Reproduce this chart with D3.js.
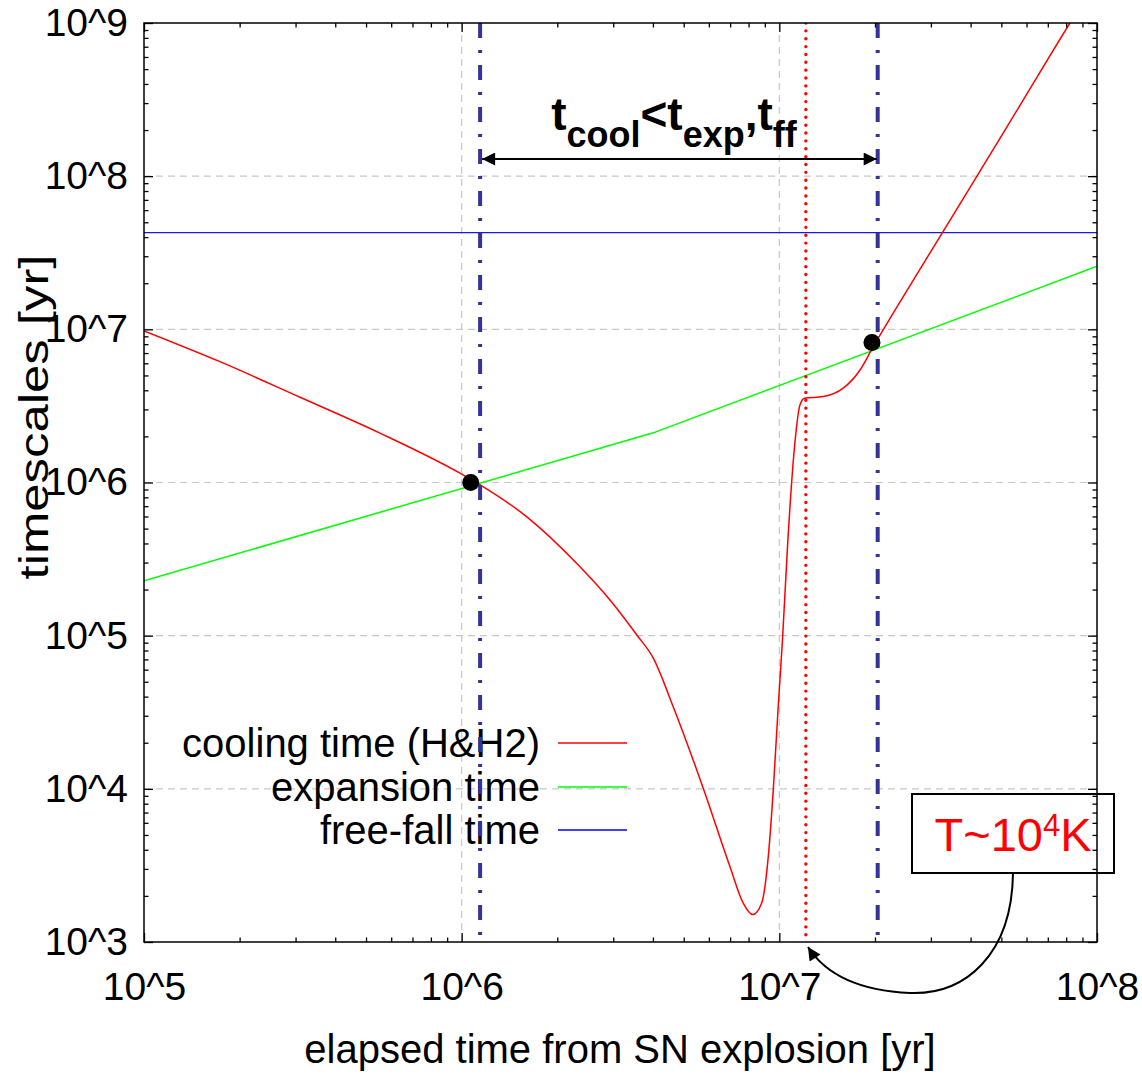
<!DOCTYPE html>
<html><head><meta charset="utf-8">
<script src="https://cdn.jsdelivr.net/npm/d3@7"></script>
<style>body{margin:0;background:#fff}svg{display:block}text{font-family:"Liberation Sans",Arial,sans-serif}</style>
</head><body><svg id="c" width="1142" height="1074"></svg>
<script>
// ---- data ----
const xTicks = [1e5, 1e6, 1e7, 1e8];
const xTickLabels = ["10^5", "10^6", "10^7", "10^8"];
const yTicks = [1e3, 1e4, 1e5, 1e6, 1e7, 1e8, 1e9];
const yTickLabels = ["10^3", "10^4", "10^5", "10^6", "10^7", "10^8", "10^9"];

const coolX = [1e5, 1.735e5, 3.10e5, 5.53e5, 9.88e5, 1.143e6, 1.60e6, 2.30e6, 2.93e6, 3.56e6, 4.01e6, 4.63e6, 5.76e6, 6.99e6, 7.69e6, 8.24e6, 8.80e6, 9.23e6, 9.57e6, 9.92e6, 1.023e7, 1.064e7, 1.114e7, 1.161e7, 1.200e7, 1.375e7, 1.589e7, 1.795e7, 1.975e7, 2.28e7, 3.28e7, 4.18e7, 5.71e7, 8.22e7, 9.0e7];
const coolY = [9.77e6, 6.15e6, 3.60e6, 2.10e6, 1.15e6, 9.65e5, 5.99e5, 2.97e5, 1.71e5, 1.01e5, 7.13e4, 3.45e4, 1.01e4, 3.11e3, 1.80e3, 1.51e3, 1.80e3, 3.61e3, 9.85e3, 3.45e4, 9.39e4, 4.22e5, 1.63e6, 3.2e6, 3.55e6, 3.64e6, 4.13e6, 5.43e6, 7.71e6, 1.27e7, 4.36e7, 9.93e7, 2.88e8, 1e9, 1.35e9];

const expX = [1e5, 4.01e6, 1e8];
const expY = [2.28e5, 2.11e6, 2.58e7];

const ffX = [1e5, 1e8];
const ffY = [4.28e7, 4.28e7];

const crossX = [1.068e6, 1.957e7];
const crossY = [1.0e6, 8.2e6];

const vDashDotX = [1.143e6, 2.04e7];
const vDotX = [1.212e7];

const seriesNames = ["cooling time (H&H2)", "expansion time", "free-fall time"];
const seriesColors = ["#ff0000", "#00ff00", "#0000ff"];

// ---- layout ----
const L = 144, R = 1097, T = 23, B = 942;
const svg = d3.select("#c");
const x = d3.scaleLog().domain([1e5, 1e8]).range([L, R]);
const y = d3.scaleLog().domain([1e3, 1e9]).range([B, T]);

function minorTicks(lo, hi) {
  const out = [];
  for (let e = lo; e < hi; e++) for (let k = 2; k <= 9; k++) out.push(k * Math.pow(10, e));
  return out;
}
const xMinor = minorTicks(5, 8), yMinor = minorTicks(3, 9);

const defs = svg.append("defs");
defs.append("clipPath").attr("id", "clip")
  .append("rect").attr("x", L).attr("y", T).attr("width", R - L).attr("height", B - T);

// grid
const grid = svg.append("g").attr("stroke", "#c8c8c8").attr("stroke-width", 1.2).attr("stroke-dasharray", "7,5");
[1e4, 1e5, 1e6, 1e7, 1e8].forEach(v => grid.append("line").attr("x1", L).attr("x2", R).attr("y1", y(v)).attr("y2", y(v)));
[1e6, 1e7].forEach(v => grid.append("line").attr("y1", T).attr("y2", B).attr("x1", x(v)).attr("x2", x(v)));

// legend
const legY = [743, 787, 830];
const leg = svg.append("g");
seriesNames.forEach((n, i) => {
  leg.append("text").attr("x", 540).attr("y", legY[i] + 14).attr("text-anchor", "end")
    .attr("font-size", 40).attr("fill", "#000").text(n);
  leg.append("line").attr("x1", 558).attr("x2", 627).attr("y1", legY[i]).attr("y2", legY[i])
    .attr("stroke", seriesColors[i]).attr("stroke-width", 1.3);
});

// curves
const plot = svg.append("g").attr("clip-path", "url(#clip)");
const line = d3.line().x(d => x(d[0])).y(d => y(d[1]));
plot.append("path").datum(ffX.map((v, i) => [v, ffY[i]])).attr("d", line)
  .attr("fill", "none").attr("stroke", "#1a1ad0").attr("stroke-width", 1.3);
plot.append("path").datum(expX.map((v, i) => [v, expY[i]])).attr("d", line)
  .attr("fill", "none").attr("stroke", "#00ff00").attr("stroke-width", 1.5);
plot.append("path").datum(coolX.map((v, i) => [v, coolY[i]])).attr("d", line.curve(d3.curveMonotoneX))
  .attr("fill", "none").attr("stroke", "#ff0000").attr("stroke-width", 1.5);

// vertical marker lines
vDashDotX.forEach(v => plot.append("line").attr("x1", x(v)).attr("x2", x(v)).attr("y1", T).attr("y2", B)
  .attr("stroke", "#333399").attr("stroke-width", 4).attr("stroke-dasharray", "15,12,3,12"));
vDotX.forEach(v => plot.append("line").attr("x1", x(v)).attr("x2", x(v)).attr("y1", T).attr("y2", B)
  .attr("stroke", "#ff0000").attr("stroke-width", 3.4).attr("stroke-linecap", "round").attr("stroke-dasharray", "0.01,7.85"));

// axes
function styleAxis(g) { g.select(".domain").remove(); g.selectAll("line").attr("stroke", "#000").attr("stroke-width", 1.3); }
svg.append("g").attr("transform", `translate(0,${B})`)
  .call(d3.axisBottom(x).tickValues(xTicks).tickSize(-9).tickPadding(30).tickFormat((d, i) => xTickLabels[i]))
  .call(styleAxis).selectAll("text").attr("font-size", 39).attr("font-family", "Liberation Sans, Arial, sans-serif").attr("fill", "#000");
svg.append("g").attr("transform", `translate(0,${B})`)
  .call(d3.axisBottom(x).tickValues(xMinor).tickSize(-4.5).tickFormat("")).call(styleAxis);
svg.append("g").attr("transform", `translate(0,${T})`)
  .call(d3.axisTop(x).tickValues(xTicks).tickSize(-9).tickFormat("")).call(styleAxis);
svg.append("g").attr("transform", `translate(0,${T})`)
  .call(d3.axisTop(x).tickValues(xMinor).tickSize(-4.5).tickFormat("")).call(styleAxis);
svg.append("g").attr("transform", `translate(${L},0)`)
  .call(d3.axisLeft(y).tickValues(yTicks).tickSize(-9).tickPadding(16).tickFormat((d, i) => yTickLabels[i]))
  .call(styleAxis).selectAll("text").attr("font-size", 39).attr("font-family", "Liberation Sans, Arial, sans-serif").attr("fill", "#000");
svg.append("g").attr("transform", `translate(${L},0)`)
  .call(d3.axisLeft(y).tickValues(yMinor).tickSize(-4.5).tickFormat("")).call(styleAxis);
svg.append("g").attr("transform", `translate(${R},0)`)
  .call(d3.axisRight(y).tickValues(yTicks).tickSize(-9).tickFormat("")).call(styleAxis);
svg.append("g").attr("transform", `translate(${R},0)`)
  .call(d3.axisRight(y).tickValues(yMinor).tickSize(-4.5).tickFormat("")).call(styleAxis);

svg.append("rect").attr("x", L).attr("y", T).attr("width", R - L).attr("height", B - T)
  .attr("fill", "none").attr("stroke", "#000").attr("stroke-width", 1.5);

// crossing dots
svg.append("g").selectAll("circle").data(crossX).join("circle")
  .attr("cx", d => x(d)).attr("cy", (d, i) => y(crossY[i])).attr("r", 8.5).attr("fill", "#000");

// axis titles
svg.append("text").attr("x", 620).attr("y", 1063).attr("text-anchor", "middle").attr("font-size", 40)
  .text("elapsed time from SN explosion [yr]");
svg.append("text").attr("transform", "translate(48,417) rotate(-90)").attr("text-anchor", "middle").attr("font-size", 40)
  .attr("textLength", 325).attr("lengthAdjust", "spacingAndGlyphs")
  .text("timescales [yr]");

// arrowhead marker
defs.append("marker").attr("id", "ah").attr("viewBox", "0 0 10 10").attr("refX", 10).attr("refY", 5)
  .attr("markerWidth", 16).attr("markerHeight", 13).attr("markerUnits", "userSpaceOnUse").attr("orient", "auto-start-reverse")
  .append("path").attr("d", "M0,0L10,5L0,10Z").attr("fill", "#000");

// double arrow with label
svg.append("line").attr("x1", x(vDashDotX[0]) + 2).attr("x2", x(vDashDotX[1]) - 1).attr("y1", 159).attr("y2", 159)
  .attr("stroke", "#000").attr("stroke-width", 2.2).attr("marker-start", "url(#ah)").attr("marker-end", "url(#ah)");
const lab = svg.append("text").attr("x", 674).attr("y", 130).attr("text-anchor", "middle")
  .attr("font-weight", "bold").attr("font-size", 46).attr("fill", "#000");
lab.append("tspan").text("t");
lab.append("tspan").attr("font-size", 36).attr("dy", 17).text("cool");
lab.append("tspan").attr("dy", -17).text("<t");
lab.append("tspan").attr("font-size", 36).attr("dy", 17).text("exp");
lab.append("tspan").attr("dy", -17).text(",t");
lab.append("tspan").attr("font-size", 36).attr("dy", 17).text("ff");

// T~10^4K box + curved arrow
svg.append("rect").attr("x", 912).attr("y", 794).attr("width", 202).attr("height", 79)
  .attr("fill", "none").attr("stroke", "#000").attr("stroke-width", 2);
const tt = svg.append("text").attr("x", 1013).attr("y", 851).attr("text-anchor", "middle")
  .attr("font-size", 47).attr("fill", "#ff0000");
tt.append("tspan").text("T~10");
tt.append("tspan").attr("font-size", 31).attr("dy", -15).text("4");
tt.append("tspan").attr("dy", 15).text("K");
svg.append("path").attr("d", "M1013,873 C1012,955 965,995 910,993 C865,991 828,978 808,947")
  .attr("fill", "none").attr("stroke", "#000").attr("stroke-width", 2).attr("marker-end", "url(#ah)");
</script></body></html>
